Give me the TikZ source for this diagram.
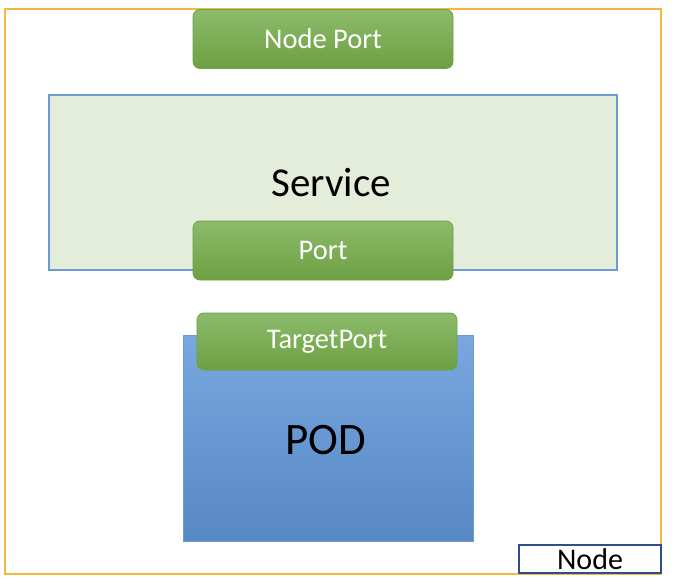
\documentclass[tikz,border=0pt]{standalone}
\usepackage{fontspec}
\setmainfont{Carlito}
\usetikzlibrary{shadings}
\definecolor{orangeb}{HTML}{F4B83A}
\definecolor{greentop}{HTML}{8CBB6B}
\definecolor{greenbot}{HTML}{6E9F42}
\definecolor{greenborder}{HTML}{71A047}
\definecolor{bluetop}{HTML}{78A8DE}
\definecolor{bluebot}{HTML}{5888C5}
\definecolor{servfill}{HTML}{E3EDDA}
\definecolor{servborder}{HTML}{6C9BD3}
\definecolor{nodeborder}{HTML}{2F4D8D}
\tikzset{
  portbox/.style={rounded corners=7pt, draw=greenborder, line width=0.8pt, top color=greentop, bottom color=greenbot, text=white, font=\fontsize{28.5}{30}\selectfont},
}
\begin{document}
\begin{tikzpicture}[x=1pt,y=-1pt]
\useasboundingbox (0,0) rectangle (674,588);
\fill[white] (0,0) rectangle (674,588);
\draw[orangeb, line width=1.5pt] (5,9) rectangle (661,574);
\node[draw=nodeborder, line width=1.5pt, minimum width=142pt, minimum height=28pt, inner sep=0pt, font=\fontsize{30}{32}\selectfont] (nodelbl) at (590,559) {Node};
\node[draw=servborder, line width=1.2pt, fill=servfill, minimum width=568pt, minimum height=175pt, inner sep=0pt] (service) at (333,182.5) {};
\node[font=\fontsize{41}{44}\selectfont] (servicelbl) at (331,183) {Service};
\node[portbox, minimum width=260pt, minimum height=59pt, inner sep=0pt] (nodeport) at (323,39) {Node Port};
\node[portbox, minimum width=260pt, minimum height=59pt, inner sep=0pt] (port) at (323,250.5) {Port};
\node[draw=servborder, line width=1pt, top color=bluetop, bottom color=bluebot, minimum width=290pt, minimum height=206pt, inner sep=0pt] (pod) at (328,438) {};
\node[font=\fontsize{45}{48}\selectfont] (podlbl) at (326,440) {POD};
\node[portbox, minimum width=260pt, minimum height=57pt, inner sep=0pt] (target) at (327,341.5) {TargetPort};
\end{tikzpicture}
\end{document}
